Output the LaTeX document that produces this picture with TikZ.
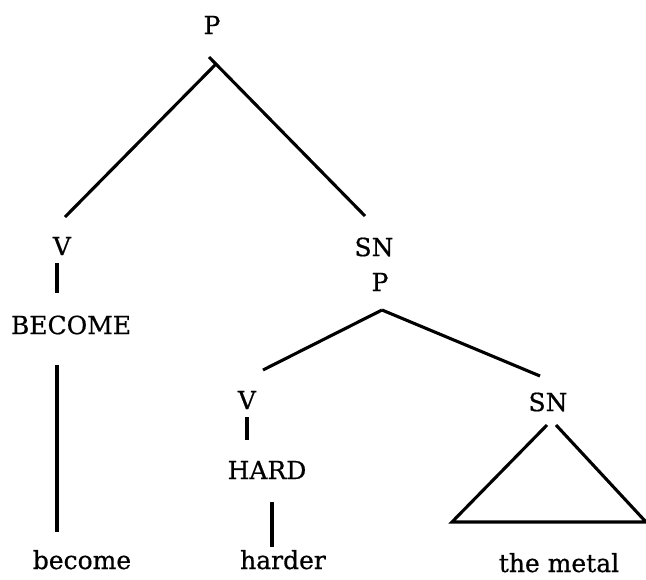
\documentclass[tikz,border=0pt]{standalone}
\usepackage{fontspec}
\setmainfont{DejaVu Serif}
\newfontfamily\treefont{DejaVu Serif}[FakeBold=0.6]
\begin{document}
\begin{tikzpicture}[x=1pt,y=-1pt,
  lbl/.style={inner sep=0pt,font=\treefont\fontsize{25}{30}\selectfont},
  edge/.style={line width=3.1pt}]
\useasboundingbox (0,0) rectangle (646,579);
\node[lbl] (P1) at (212,25) {P};
\node[lbl] (V1) at (62,246) {V};
\node[lbl] (BECOME) at (71,325) {BECOME};
\node[lbl,anchor=base] (become) at (82,569) {become};
\node[lbl] (SN1) at (374,247) {SN};
\node[lbl] (P2) at (380,282) {P};
\node[lbl] (V2) at (247,400) {V};
\node[lbl] (HARD) at (267,470) {HARD};
\node[lbl,anchor=base] (harder) at (283,569) {harder};
\node[lbl,anchor=base] (themetal) at (559,572) {the metal};
\node[lbl] (SN2) at (548,402) {SN};
% top P
\draw[edge] ([shift={(4,39)}]P1.center) -- ([shift={(3,-29)}]V1.center);
\draw[edge] ([shift={(-3,32)}]P1.center) -- ([shift={(-9,-31)}]SN1.center);
\draw[edge] ([shift={(-5,17)}]V1.center) -- ([shift={(-14,-32)}]BECOME.center);
\draw[edge] ([shift={(-14,40)}]BECOME.center) -- ([shift={(-25,-37)}]become.base);
% second P
\draw[edge] ([shift={(2,28)}]P2.center) -- ([shift={(16,-30)}]V2.center);
\draw[edge] ([shift={(2,28)}]P2.center) -- ([shift={(-8,-26)}]SN2.center);
\draw[edge] ([shift={(0,17)}]V2.center) -- ([shift={(-20,-30)}]HARD.center);
\draw[edge] ([shift={(5,32)}]HARD.center) -- ([shift={(-11,-22)}]harder.base);
% triangle
\coordinate (tl) at (452,522);
\coordinate (tr) at (646,522);
\draw[edge] ([shift={(-1,23)}]SN2.center) -- (tl) -- (tr) -- ([shift={(8,23)}]SN2.center);
\end{tikzpicture}
\end{document}
